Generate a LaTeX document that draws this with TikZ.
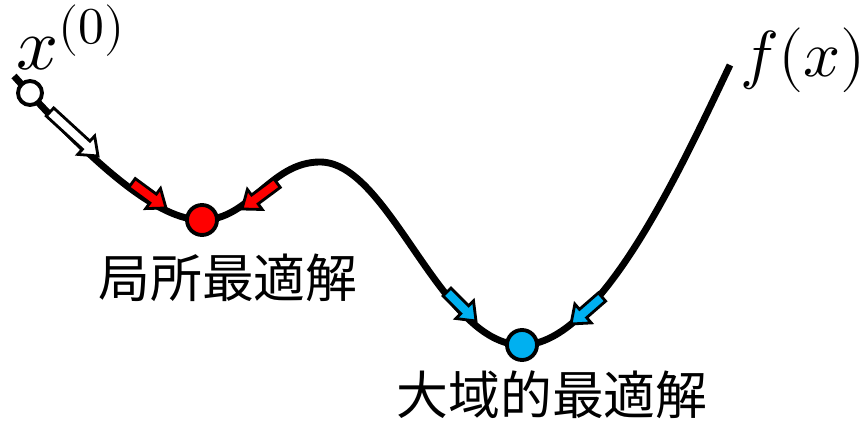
\documentclass[tikz,border=0pt]{standalone}
\usepackage{fontspec}
\usepackage{unicode-math}
\setmathfont{Latin Modern Math}
\newfontfamily\cjk{Noto Sans CJK JP}
\usetikzlibrary{calc}
\definecolor{redc}{RGB}{255,0,0}
\definecolor{bluec}{RGB}{0,176,240}
\newcommand\blockarrow[3]{%
  \coordinate (bA) at #2; \coordinate (bB) at #3;
  \coordinate (bH) at ($(bB)!0.32cm!(bA)$);
  \filldraw[fill=#1, draw=black, line width=1.6pt, line join=miter]
    ($(bA)!0.11cm!90:(bB)$) -- ($(bH)!0.11cm!90:(bB)$) -- ($(bH)!0.25cm!90:(bB)$)
    -- (bB) -- ($(bH)!0.25cm!-90:(bB)$) -- ($(bH)!0.11cm!-90:(bB)$)
    -- ($(bA)!0.11cm!-90:(bB)$) -- cycle;}
\tikzset{
  curve/.style={line width=3.9pt},
  dot/.style={circle, draw=black, line width=2.2pt, inner sep=0pt, minimum size=#1},
  jp/.style={font=\cjk\fontsize{29.5}{34}\selectfont, inner sep=0pt},
  mathlbl/.style={font=\fontsize{#1}{#1}\selectfont, inner sep=0pt}
}
\begin{document}
\begin{tikzpicture}[x=0.02cm, y=-0.02cm]
\useasboundingbox (0,0) rectangle (867,425);
\coordinate (s) at (14,76);
\coordinate (m1) at (202,220);
\coordinate (mx) at (320,162);
\coordinate (m2) at (522,345);
\coordinate (e) at (730,65);
\draw[curve] (s) .. controls (100,172) and (160,220) .. (m1)
  .. controls (250,220) and (270,162) .. (mx)
  .. controls (390,162) and (440,345) .. (m2)
  .. controls (600,345) and (680,170) .. (e);
\blockarrow{white}{(50,112)}{(98,156)}
\blockarrow{redc}{(132,183)}{(166,208)}
\blockarrow{redc}{(277,183)}{(242,209)}
\blockarrow{bluec}{(447,292)}{(476,321)}
\blockarrow{bluec}{(602,297)}{(571,324)}
\node[dot=0.48cm, fill=white] (x0) at (30,93) {};
\node[dot=0.60cm, fill=redc] (loc) at (m1) {};
\node[dot=0.60cm, fill=bluec] (glob) at (m2) {};
\node[mathlbl=42, anchor=base west] (lx) at (16,70) {$x^{(0)}$};
\node[mathlbl=37, anchor=base west] (lf) at (740,77) {$f(x)$};
\node[jp] (tl) at (228,278) {局所最適解};
\node[jp] (tg) at (552,395) {大域的最適解};
\end{tikzpicture}
\end{document}
